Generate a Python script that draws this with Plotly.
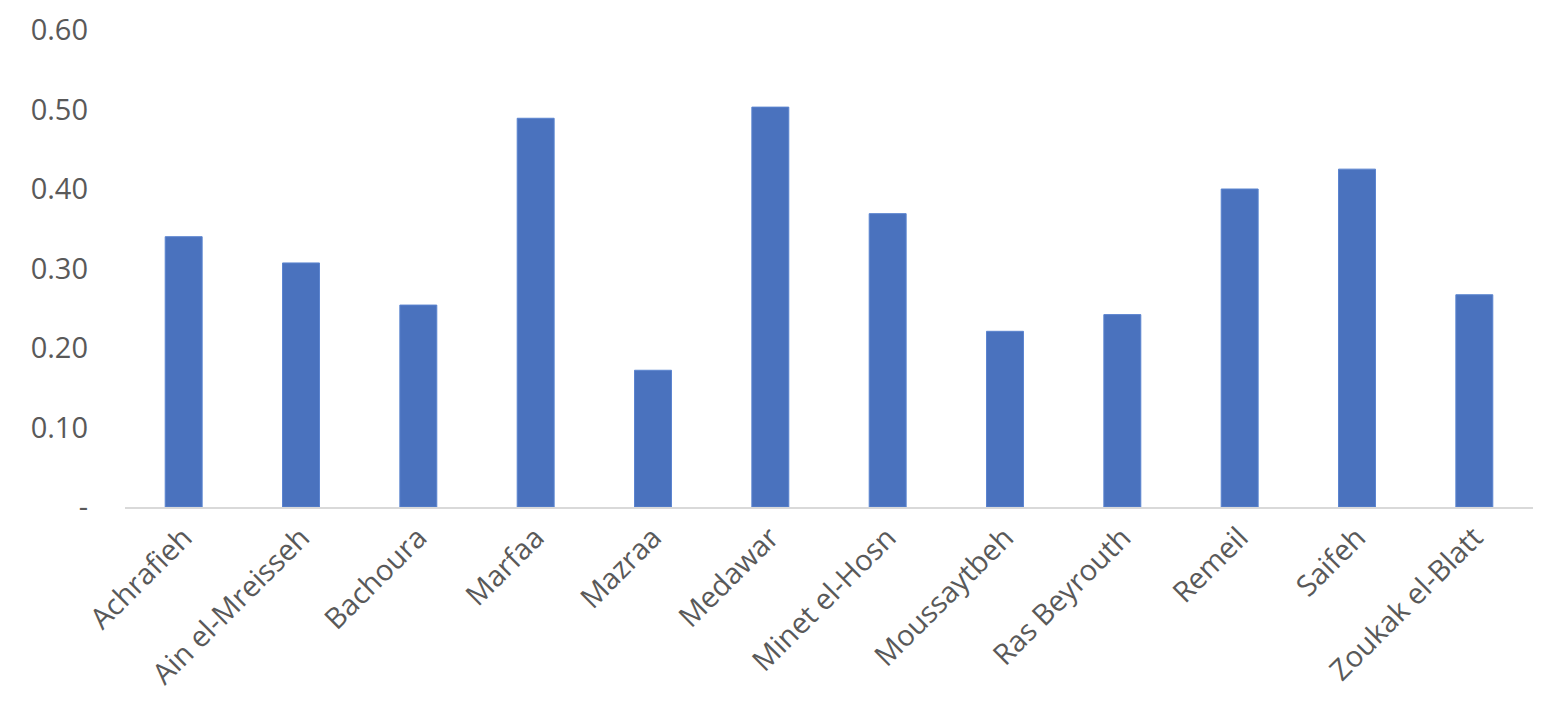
import plotly.graph_objects as go

categories = ["Achrafieh", "Ain el-Mreisseh", "Bachoura", "Marfaa", "Mazraa", "Medawar",
              "Minet el-Hosn", "Moussaytbeh", "Ras Beyrouth", "Remeil", "Saifeh", "Zoukak el-Blatt"]
values = [0.340, 0.307, 0.254, 0.489, 0.172, 0.503, 0.369, 0.221, 0.242, 0.400, 0.425, 0.267]
y_tickvals = [0, 0.1, 0.2, 0.3, 0.4, 0.5, 0.6]
y_ticktext = ["-", "0.10", "0.20", "0.30", "0.40", "0.50", "0.60"]

fig = go.Figure(go.Bar(
    x=categories, y=values,
    marker=dict(color="#4A72BE", line=dict(color="#5B84CF", width=1)),
))

font = dict(family="Open Sans, Liberation Sans, sans-serif", size=29, color="#595959")
fig.update_layout(
    width=1554, height=726,
    margin=dict(l=125, r=21, t=30, b=219),
    paper_bgcolor="white", plot_bgcolor="white",
    bargap=0.685,
    showlegend=False,
    font=font,
    xaxis=dict(showline=True, linecolor="#D9D9D9", linewidth=2, showgrid=False,
               tickangle=-45, ticks="", tickfont=font, automargin=False),
    yaxis=dict(range=[0, 0.6], tickvals=y_tickvals, ticktext=y_ticktext, showgrid=False,
               zeroline=False, showline=False, ticks="", ticklabelstandoff=36, tickfont=font,
               automargin=False),
)
fig.write_html("out.html", config={"displayModeBar": False},
               post_script="document.body.style.margin='0';")
